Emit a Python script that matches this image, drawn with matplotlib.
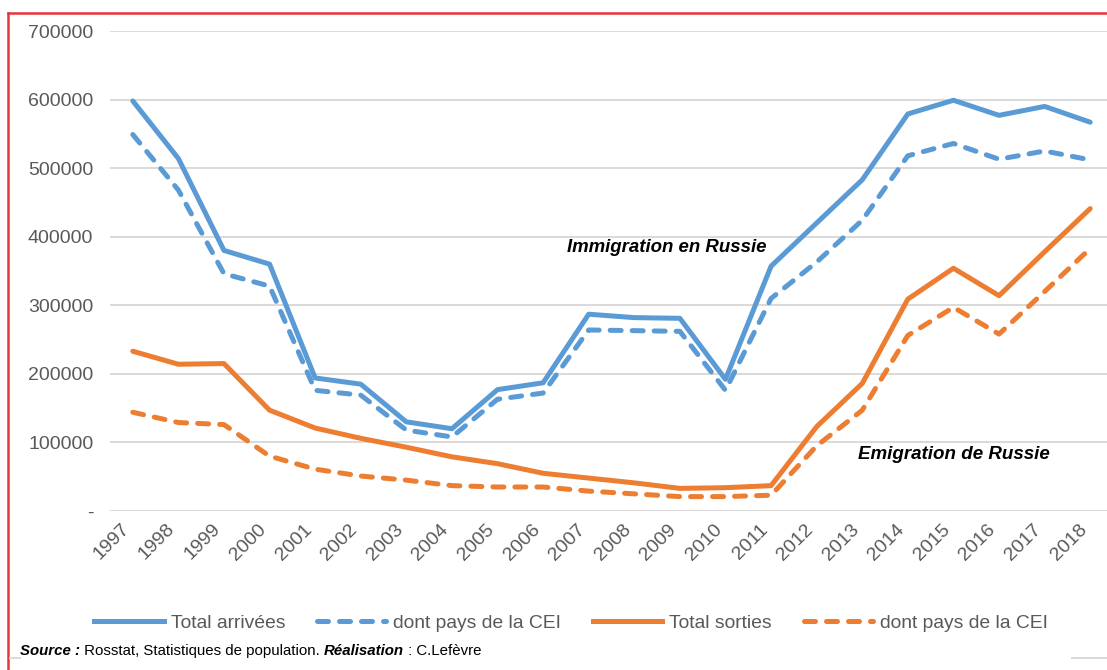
import matplotlib.pyplot as plt
from matplotlib.lines import Line2D
from matplotlib.ticker import FuncFormatter

plt.rcParams['font.family'] = ['Liberation Sans', 'DejaVu Sans']

# Données
annees = [str(a) for a in range(1997, 2019)]
arrivees_total = [598000, 514000, 380000, 360000, 194000, 185000, 130000, 120000,
                  177000, 187000, 287000, 282000, 281000, 192000, 357000, 420000,
                  483000, 579000, 599000, 577000, 590000, 567000]
arrivees_cei = [549000, 468000, 346000, 328000, 176000, 169000, 118000, 108000,
                163000, 172000, 264000, 263000, 262000, 176000, 310000, 363000,
                424000, 518000, 536000, 513000, 525000, 512000]
sorties_total = [233000, 214000, 215000, 147000, 121000, 106000, 93000, 79000,
                 69000, 55000, 48000, 41000, 33000, 34000, 37000, 123000,
                 186000, 309000, 354000, 314000, 378000, 441000]
sorties_cei = [144000, 129000, 126000, 80000, 61000, 51000, 45000, 37000,
               35000, 35000, 29000, 25000, 21000, 21000, 23000, 95000,
               147000, 256000, 297000, 258000, 320000, 383000]

bleu = '#5B9BD5'
orange = '#ED7D31'
gris = '#595959'
tirets = (2.2, 2.2)

fig = plt.figure(figsize=(11.07, 6.70), dpi=100)
ax = fig.add_axes([110 / 1107, 1 - 511 / 670, 1003 / 1107, 480 / 670])

x = range(len(annees))
lw = 3.6
ax.plot(x, arrivees_total, color=bleu, lw=lw, solid_capstyle='round', zorder=3)
ax.plot(x, arrivees_cei, color=bleu, lw=lw, dashes=tirets, dash_capstyle='round', zorder=3)
ax.plot(x, sorties_total, color=orange, lw=lw, solid_capstyle='round', zorder=3)
ax.plot(x, sorties_cei, color=orange, lw=lw, dashes=tirets, dash_capstyle='round', zorder=3)

ax.set_xlim(-0.5, len(annees) - 0.5)
ax.set_ylim(0, 700000)
ax.set_yticks(range(0, 700001, 100000))
ax.yaxis.set_major_formatter(FuncFormatter(lambda v, p: '-' if v == 0 else f'{int(v)}'))
ax.set_xticks(list(x))
ax.set_xticklabels(annees, rotation=45, ha='right')
ax.tick_params(axis='both', length=0, labelsize=14, labelcolor=gris)
ax.tick_params(axis='y', pad=12)
ax.tick_params(axis='x', pad=7)
ax.yaxis.grid(True, color='#D9D9D9', lw=1.4, zorder=0)
ax.set_axisbelow(True)
for s in ax.spines.values():
    s.set_visible(False)

# Annotations
ax.text(9.52, 385000, 'Immigration en Russie', fontsize=13.4, fontweight='bold',
        fontstyle='italic', ha='left', va='center', color='black')
ax.text(15.91, 82000, 'Emigration de Russie', fontsize=13.5, fontweight='bold',
        fontstyle='italic', ha='left', va='center', color='black')

# Légende
handles = [
    Line2D([], [], color=bleu, lw=lw),
    Line2D([], [], color=bleu, lw=lw, dashes=tirets, dash_capstyle='round'),
    Line2D([], [], color=orange, lw=lw),
    Line2D([], [], color=orange, lw=lw, dashes=tirets, dash_capstyle='round'),
]
labels = ['Total arrivées', 'dont pays de la CEI', 'Total sorties', 'dont pays de la CEI']
leg = fig.legend(handles, labels, loc='center', bbox_to_anchor=(571 / 1107, 1 - 623 / 670),
                 ncol=4, frameon=False, fontsize=13.9, handlelength=3.6,
                 handletextpad=0.35, columnspacing=1.65)
for t in leg.get_texts():
    t.set_color(gris)

# Source
y_src = 1 - 651 / 670
morceaux = [('Source :', True), (' Rosstat, Statistiques de population. ', False),
            ('Réalisation', True), (' : C.Lefèvre', False)]
fig.canvas.draw()
r = fig.canvas.get_renderer()
xpos = 20 / 1107
for txt, gras in morceaux:
    t = fig.text(xpos, y_src, txt, fontsize=10.8, color='black', va='center', ha='left',
                 fontweight='bold' if gras else 'normal',
                 fontstyle='italic' if gras else 'normal')
    bb = t.get_window_extent(renderer=r)
    xpos += bb.width / fig.bbox.width

# Cadre rouge
rouge = '#E8343E'
fig.add_artist(Line2D([8 / 1107, 8 / 1107], [0, 1 - 13 / 670], color=rouge, lw=1.8,
                      transform=fig.transFigure))
fig.add_artist(Line2D([8 / 1107, 1], [1 - 13 / 670, 1 - 13 / 670], color=rouge, lw=1.8,
                      transform=fig.transFigure))
# petits traits gris en bas
fig.add_artist(Line2D([10 / 1107, 20 / 1107], [1 - 658 / 670] * 2, color='#D9D9D9', lw=1.4,
                      transform=fig.transFigure))
fig.add_artist(Line2D([1072 / 1107, 1], [1 - 658 / 670] * 2, color='#D9D9D9', lw=1.4,
                      transform=fig.transFigure))

fig.savefig('out.png', dpi=100)
